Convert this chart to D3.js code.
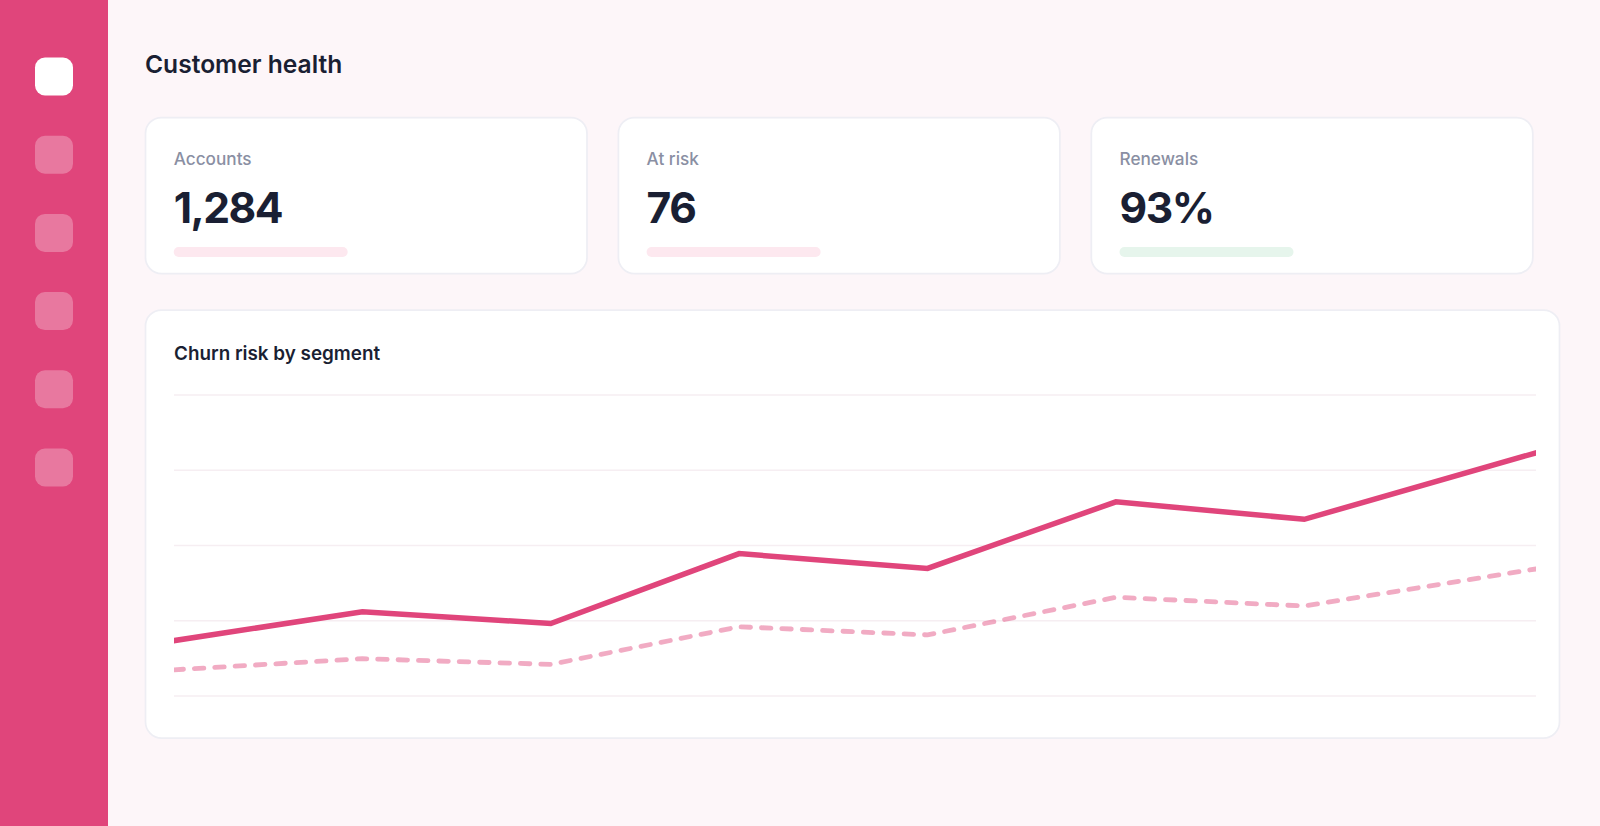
<!DOCTYPE html>
<html>
<head>
<meta charset="utf-8">
<title>Customer health</title>
<script src="https://cdn.jsdelivr.net/npm/d3@7"></script>
<style>
  html, body { margin: 0; padding: 0; background: #fdf6f9; overflow: hidden; }
  svg { display: block; font-family: Inter, sans-serif; }
</style>
</head>
<body>
<script>
let page_title = 'Customer health'
let chart_title = 'Churn risk by segment'

let kpi_labels = ['Accounts', 'At risk', 'Renewals']
let kpi_values = ['1,284', '76', '93%']
let kpi_bar_colors = ['#fde8ef', '#fde8ef', '#e6f5ec']
let nav_items = [0, 1, 2, 3, 4, 5]

let grid_ticks = [0, 25, 50, 75, 100]
// last step runs past the plot edge, the plot cuts it off
let segment_steps = [0, 1, 2, 3, 4, 5, 6, 7.23]
let risk_now = [18.4, 28, 24.1, 47.3, 42.4, 64.5, 58.7, 80.8]
let risk_prev = [8.7, 12.4, 10.5, 23, 20.3, 32.8, 29.9, 42.2]

let pink = '#e0457b', ink = '#1a1f33', border = '#eeeef4'

let svg = d3.select('body').append('svg').attr('width', 1600).attr('height', 826)

// sidebar
svg.append('rect').attr('width', 108).attr('height', 826).attr('fill', pink)
svg.selectAll('rect.nav')
  .data(nav_items)
  .join('rect')
    .attr('class', 'nav')
    .attr('x', 35).attr('y', d => 57.5 + d * 78.2)
    .attr('width', 38).attr('height', 38).attr('rx', 10)
    .attr('fill', '#fff')
    .attr('fill-opacity', d => d == 0 ? 1 : 0.28)

svg.append('text')
  .attr('x', 145).attr('y', 72.5)
  .attr('font-size', 24.6).attr('font-weight', 600).attr('fill', ink)
  .text(page_title)

// kpi cards
let card_x = d3.scaleLinear().domain([0, 1]).range([145.5, 618.4])
let kpi = svg.selectAll('g.kpi')
  .data(kpi_labels)
  .join('g')
    .attr('class', 'kpi')
    .attr('transform', (d, i) => `translate(${card_x(i)},117.5)`)

kpi.append('rect')
  .attr('width', 441.5).attr('height', 156).attr('rx', 16)
  .attr('fill', '#fff').attr('stroke', border).attr('stroke-width', 1.75)
kpi.append('text')
  .attr('x', 28.2).attr('y', 47.5)
  .attr('font-size', 17.2).attr('font-weight', 500).attr('fill', '#8a8fa3')
  .text(d => d)
kpi.append('text')
  .attr('x', 28.2).attr('y', 105)
  .attr('font-size', 42.6).attr('font-weight', 700).attr('fill', ink)
  .attr('letter-spacing', -1.5)
  .text((d, i) => kpi_values[i])
kpi.append('rect')
  .attr('x', 28.2).attr('y', 129.5)
  .attr('width', 174).attr('height', 10).attr('rx', 5)
  .attr('fill', (d, i) => kpi_bar_colors[i])

// chart card
svg.append('rect')
  .attr('x', 145.5).attr('y', 310)
  .attr('width', 1414).attr('height', 428).attr('rx', 16)
  .attr('fill', '#fff').attr('stroke', border).attr('stroke-width', 1.75)
svg.append('text')
  .attr('x', 174).attr('y', 360)
  .attr('font-size', 18.85).attr('font-weight', 600).attr('fill', ink)
  .text(chart_title)

let x = d3.scaleLinear().domain([0, 7.23]).range([174, 1536])
let y = d3.scaleLinear().domain([0, 100]).range([696, 395])

svg.append('g')
  .selectAll('line')
  .data(grid_ticks)
  .join('line')
    .attr('x1', x.range()[0]).attr('x2', x.range()[1])
    .attr('y1', d => y(d)).attr('y2', d => y(d))
    .attr('stroke', '#f6eef2').attr('stroke-width', 1.6)

svg.append('clipPath').attr('id', 'plot')
  .append('rect')
    .attr('x', x.range()[0]).attr('y', y.range()[1] - 10)
    .attr('width', x.range()[1] - x.range()[0])
    .attr('height', y.range()[0] - y.range()[1] + 20)

let line = d3.line().x((d, i) => x(segment_steps[i])).y(d => y(d))
let plot = svg.append('g').attr('clip-path', 'url(#plot)').attr('fill', 'none')

plot.append('path')
  .attr('d', line(risk_prev))
  .attr('stroke', pink).attr('stroke-opacity', 0.45)
  .attr('stroke-width', 4.8).attr('stroke-linecap', 'round')
  .attr('stroke-dasharray', '9.5 10.9')
plot.append('path')
  .attr('d', line(risk_now))
  .attr('stroke', pink).attr('stroke-width', 5.5)
  .attr('stroke-linecap', 'square')
</script>
</body>
</html>
